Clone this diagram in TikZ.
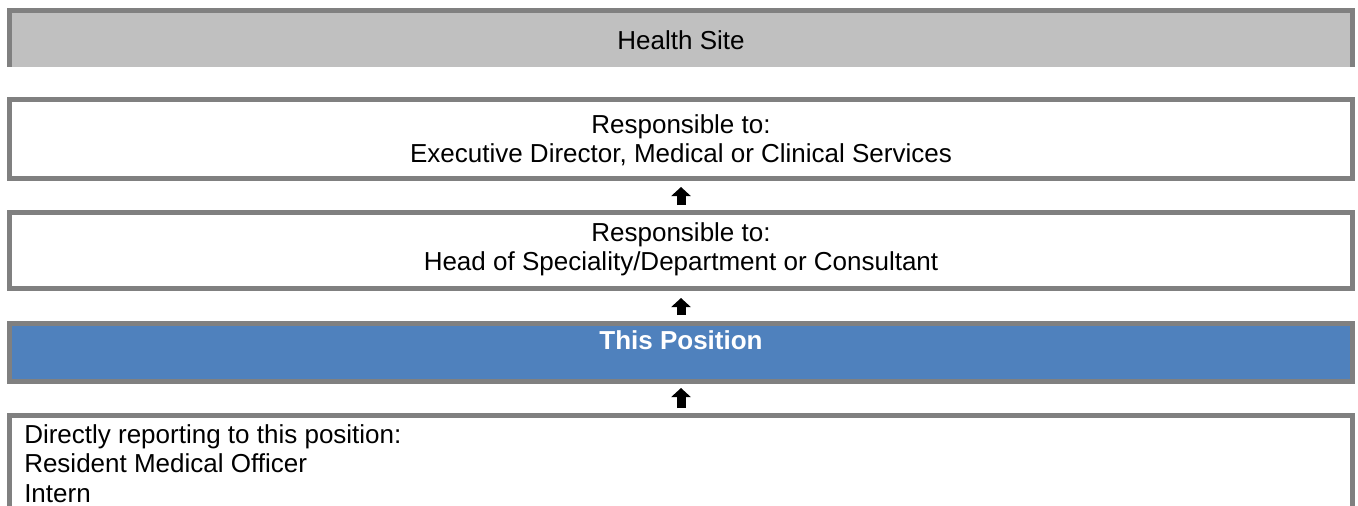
\documentclass[tikz,border=0pt]{standalone}
\usepackage{fontspec}
\setmainfont{Liberation Sans}
\usetikzlibrary{arrows.meta}
\definecolor{bordergray}{RGB}{128,128,128}
\definecolor{sitegray}{RGB}{192,192,192}
\definecolor{posblue}{RGB}{79,129,189}
\begin{document}
\begin{tikzpicture}[x=0.75pt,y=-0.75pt,
  box/.style={rectangle, draw=bordergray, line width=3.75pt, minimum width=1007.25pt, inner sep=0pt},
  txt/.style={inner sep=0pt, anchor=base, font=\fontsize{19.5pt}{22.2pt}\selectfont},
  uparrow/.style={line width=6.75pt, -{Triangle[width=14.25pt,length=6.75pt]}}
]
\useasboundingbox (0,0) rectangle (1358,506);
% top box, open at the bottom
\node[rectangle, fill=sitegray, minimum width=1007.25pt, minimum height=42.375pt, inner sep=0pt, outer sep=0pt] (b1) at (681,38.75) {};
\draw[bordergray, line width=3.75pt] (b1.south west) -- (b1.north west) -- (b1.north east) -- (b1.south east);
\node[box, minimum height=59.25pt] (b2) at (681,139) {};
\node[box, minimum height=57pt] (b3) at (681,250.5) {};
\node[box, fill=posblue, minimum height=43.5pt] (b4) at (681,352.5) {};
\node[box, minimum height=108.375pt] (b5) at (681,487.75) {};
% texts
\node[txt] (t1) at (681,50) {Health Site};
\node[txt] (t2) at (681,133) {\begin{tabular}[t]{@{}c@{}}Responsible to:\\Executive Director, Medical or Clinical Services\end{tabular}};
\node[txt] (t3) at (681,241) {\begin{tabular}[t]{@{}c@{}}Responsible to:\\Head of Speciality/Department or Consultant\end{tabular}};
\node[txt, text=white, font={\fontsize{19.5pt}{22.2pt}\selectfont\bfseries}] (t4) at (681,349.5) {This Position};
\node[txt, anchor=base west] (t5) at (24,443) {\begin{tabular}[t]{@{}l@{}}Directly reporting to this position:\\Resident Medical Officer\\Intern\end{tabular}};
% arrows
\draw[uparrow, shorten <=3.75pt, shorten >=4.5pt] (b3.north) -- (b2.south);
\draw[uparrow, shorten <=4.5pt, shorten >=5.25pt] (b4.north) -- (b3.south);
\draw[uparrow, shorten <=3.75pt, shorten >=3pt] (b5.north) -- (b4.south);
\end{tikzpicture}
\end{document}
